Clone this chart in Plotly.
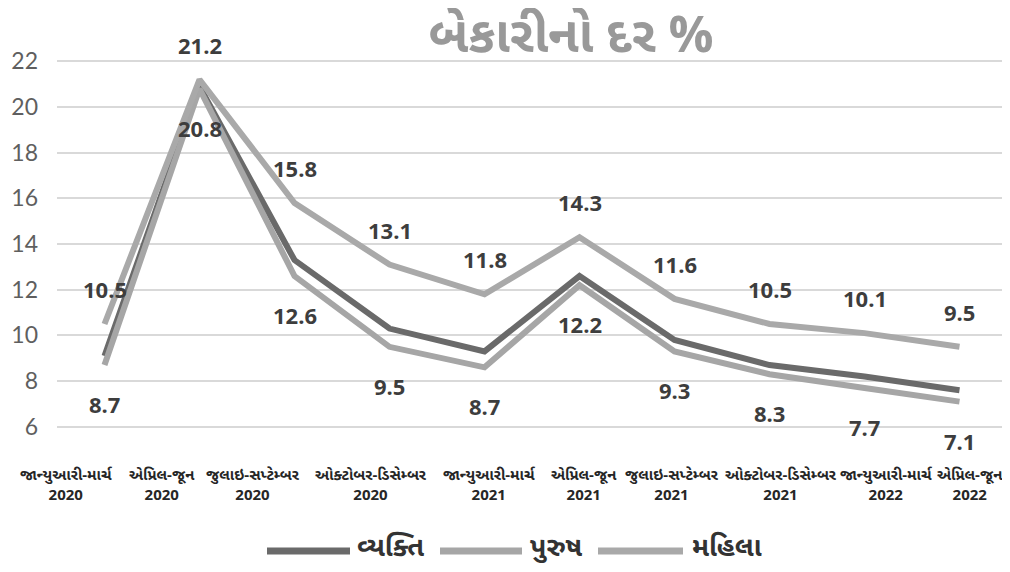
import plotly.graph_objects as go

periods = ["જાન્યુઆરી-માર્ચ", "એપ્રિલ-જૂન", "જુલાઇ-સપ્ટેમ્બર", "ઓક્ટોબર-ડિસેમ્બર",
           "જાન્યુઆરી-માર્ચ", "એપ્રિલ-જૂન", "જુલાઇ-સપ્ટેમ્બર", "ઓક્ટોબર-ડિસેમ્બર",
           "જાન્યુઆરી-માર્ચ", "એપ્રિલ-જૂન"]
years = ["2020", "2020", "2020", "2020", "2021", "2021", "2021", "2021", "2022", "2022"]
categories = [f"{p}<br>{y}" for p, y in zip(periods, years)]

overall = [9.1, 20.9, 13.3, 10.3, 9.3, 12.6, 9.8, 8.7, 8.2, 7.6]
men = [8.7, 20.8, 12.6, 9.5, 8.6, 12.2, 9.3, 8.3, 7.7, 7.1]
women = [10.5, 21.2, 15.8, 13.1, 11.8, 14.3, 11.6, 10.5, 10.1, 9.5]
men_labels = ["8.7", "20.8", "12.6", "9.5", "8.7", "12.2", "9.3", "8.3", "7.7", "7.1"]

series_names = ["વ્યક્તિ", "પુરુષ", "મહિલા"]
title_text = "બેકારીનો દર %"
y_ticks = [6, 8, 10, 12, 14, 16, 18, 20, 22]

GUJ = "Noto Sans Gujarati, Noto Sans, sans-serif"
NUM = "Open Sans, sans-serif"
colors = ["#6a6a6a", "#a6a6a6", "#a9a9a9"]

# figure geometry (page body has an 8px margin, so the figure is 8px smaller)
FW, FH = 1002, 564
ML, MR, MT, MB = 49, 3, 42, 127
PW, PH = FW - ML - MR, FH - MT - MB

fig = go.Figure()
for name, vals, col in zip(series_names, [overall, men, women], colors):
    fig.add_trace(go.Scatter(
        x=categories, y=vals, name=name, mode="lines",
        line=dict(color=col, width=6), showlegend=False,
        hoverinfo="skip",
    ))

annotations = []
# data labels
for c, v in zip(categories, women):
    annotations.append(dict(x=c, y=v, text=f"{v:.1f}", showarrow=False, yshift=35,
                            font=dict(family=NUM, size=22, color="#3d3d3d", weight=700)))
for c, v, t in zip(categories, men, men_labels):
    annotations.append(dict(x=c, y=v, text=t, showarrow=False, yshift=-39,
                            font=dict(family=NUM, size=22, color="#3d3d3d", weight=700)))

# category labels
label_shift = [-38, -38, -42, -19, 5, 4, -3, 11, 22, 10]
for c, s in zip(categories, label_shift):
    annotations.append(dict(x=c, y=0, yref="paper", yanchor="top", yshift=-19, xshift=s,
                            text=c, showarrow=False,
                            font=dict(family=GUJ, size=15, color="#262626", weight=700)))

# manual legend (figure pixel coords -> paper)
def px(xp):
    return (xp - ML) / PW
def py(ypx):
    return (MT + PH - ypx) / PH

leg_lines = [(259, 342), (432, 514), (590, 675)]
leg_text_x = [347, 520, 682]
shapes = []
for (x0, x1), col, tx, name in zip(leg_lines, colors, leg_text_x, series_names):
    shapes.append(dict(type="line", xref="paper", yref="paper",
                       x0=px(x0), x1=px(x1), y0=py(543), y1=py(543),
                       line=dict(color=col, width=7)))
    annotations.append(dict(x=px(tx), y=py(541), xref="paper", yref="paper",
                            xanchor="left", yanchor="middle", text=name, showarrow=False,
                            font=dict(family=GUJ, size=27, color="#333333", weight=700)))

fig.update_layout(
    width=FW, height=FH,
    margin=dict(l=ML, r=MR, t=MT, b=MB, autoexpand=False),
    paper_bgcolor="white", plot_bgcolor="white",
    title=dict(text=title_text, x=563 / FW, xanchor="center", y=1 - 26 / FH, yanchor="middle",
               font=dict(family=GUJ, size=50, color="#999999", weight=700)),
    xaxis=dict(type="category", range=[-0.5, 9.5], showticklabels=False, automargin=False,
               showgrid=False, zeroline=False, showline=False, ticks=""),
    yaxis=dict(range=[5.2, 22.5], tickvals=y_ticks, showgrid=True, automargin=False,
               gridcolor="#d9d9d9", gridwidth=2, zeroline=False, showline=False,
               ticks="", ticklabelstandoff=18,
               tickfont=dict(family="Lato, sans-serif", size=23, color="#5f5f5f")),
    annotations=annotations,
    shapes=shapes,
)

fig.write_html("out.html")
